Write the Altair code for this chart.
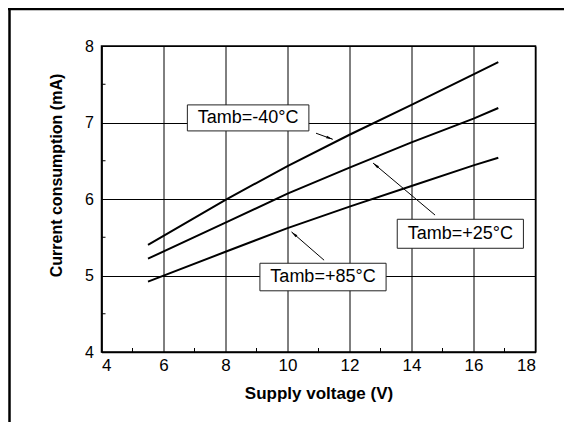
import math
import altair as alt
import pandas as pd

# ---- data ----
voltage = [5.5, 8, 10, 12, 14, 16, 16.8]
i_m40 = [5.40, 5.99, 6.43, 6.84, 7.23, 7.63, 7.79]
i_p25 = [5.22, 5.69, 6.07, 6.41, 6.74, 7.05, 7.19]
i_p85 = [4.92, 5.31, 5.62, 5.90, 6.17, 6.44, 6.54]
series_names = ["Tamb=-40°C", "Tamb=+25°C", "Tamb=+85°C"]

# annotation boxes (data units)
box_x1 = [6.77, 13.54, 9.11]
box_x2 = [10.69, 17.61, 13.18]
box_y1 = [6.89, 5.356, 4.80]
box_y2 = [7.23, 5.735, 5.16]
# arrows (tail -> head, data units)
arrow_x1 = [10.92, 14.76, 11.18]
arrow_y1 = [6.86, 5.79, 5.20]
arrow_x2 = [11.46, 12.76, 10.13]
arrow_y2 = [6.78, 6.47, 5.57]

x_ticks = [4, 6, 8, 10, 12, 14, 16, 18]
y_ticks = [4, 5, 6, 7, 8]
x_minor = [5, 7, 9, 11, 13, 15, 17]
y_minor = [4.5, 5.5, 6.5, 7.5]

W, H = 434, 306
FONT = "Liberation Sans"

xs = alt.Scale(domain=[4, 18], nice=False, zero=False)
ys = alt.Scale(domain=[4, 8], nice=False, zero=False)

rows = []
for name, vals in zip(series_names, [i_m40, i_p25, i_p85]):
    for v, c in zip(voltage, vals):
        rows.append({"series": name, "v": v, "i": c})
df_lines = pd.DataFrame(rows)

px_per_x = W / 14.0
px_per_y = H / 4.0
ann = pd.DataFrame({
    "text": series_names,
    "bx1": box_x1, "bx2": box_x2, "by1": box_y1, "by2": box_y2,
    "tx": [(a + b) / 2 for a, b in zip(box_x1, box_x2)],
    "ty": [(a + b) / 2 for a, b in zip(box_y1, box_y2)],
    "ax1": arrow_x1, "ay1": arrow_y1, "ax2": arrow_x2, "ay2": arrow_y2,
    "ang": [
        math.degrees(math.atan2((x2 - x1) * px_per_x, (y2 - y1) * px_per_y)) % 360
        for x1, y1, x2, y2 in zip(arrow_x1, arrow_y1, arrow_x2, arrow_y2)
    ],
})

x_axis = alt.Axis(
    values=x_ticks, format="d", grid=True, ticks=False, tickSize=0,
    labelPadding=5, labelFont=FONT, labelFontSize=17, labelColor="black",
    title="Supply voltage (V)", titleY=46, titleBaseline="alphabetic",
    titleFont=FONT, titleFontSize=17, titleFontWeight="bold", titleColor="black",
)
y_axis = alt.Axis(
    values=y_ticks, format="d", grid=True, ticks=False, tickSize=0,
    labelPadding=8, labelFont=FONT, labelFontSize=16, labelColor="black",
    title="Current consumption (mA)", titleX=-45, titleY=129,
    titleAngle=270, titleAlign="center", titleBaseline="middle",
    titleFont=FONT, titleFontSize=16, titleFontWeight="bold", titleColor="black",
)


def X(field):
    return alt.X(field, type="quantitative", scale=xs, axis=x_axis)


def Y(field):
    return alt.Y(field, type="quantitative", scale=ys, axis=y_axis)


lines = alt.Chart(df_lines).mark_line(color="black", strokeWidth=2).encode(
    x=X("v"), y=Y("i"), detail="series:N",
)

base_ann = alt.Chart(ann)
boxes = base_ann.mark_rect(fill="white", stroke="#222", strokeWidth=1).encode(
    x=X("bx1"), x2="bx2", y=Y("by1"), y2="by2",
)
texts = base_ann.mark_text(font=FONT, fontSize=18, color="black",
                           align="center", baseline="middle").encode(
    x=X("tx"), y=Y("ty"), text="text:N",
)
arrows = base_ann.mark_rule(color="black", strokeWidth=1).encode(
    x=X("ax1"), x2="ax2", y=Y("ay1"), y2="ay2",
)
heads = base_ann.mark_point(
    shape="M0,0L-0.45,2.2L0.45,2.2Z", filled=True, color="black",
    opacity=1, size=36, strokeWidth=0,
).encode(
    x=X("ax2"), y=Y("ay2"), angle=alt.Angle("ang:Q", scale=None),
)

xminor = alt.Chart(pd.DataFrame({"m": x_minor})).mark_rule(
    color="black", strokeWidth=1).encode(
    x=X("m"), y=alt.value(H), y2=alt.value(H - 4),
)
yminor = alt.Chart(pd.DataFrame({"m": y_minor})).mark_rule(
    color="black", strokeWidth=1).encode(
    y=Y("m"), x=alt.value(0), x2=alt.value(4),
)

one = pd.DataFrame({"k": [0]})
frame_left = alt.Chart(one).mark_rule(color="black", strokeWidth=2.5).encode(
    x=alt.value(-92), y=alt.value(-38), y2=alt.value(H + 80),
)
frame_top = alt.Chart(one).mark_rule(color="black", strokeWidth=2.5).encode(
    x=alt.value(-94), x2=alt.value(W + 40), y=alt.value(-37),
)

chart = alt.layer(
    lines, boxes, texts, arrows, heads, xminor, yminor, frame_left, frame_top
).properties(
    width=W, height=H,
    autosize=alt.AutoSizeParams(type="none"),
    padding={"left": 93.5, "top": 38, "right": 28, "bottom": 70},
    background="white",
).configure_view(
    stroke="black", strokeWidth=1.5,
).configure_axis(
    domainColor="black", domainWidth=1.5,
    gridColor="black", gridWidth=1, gridOpacity=1,
)

chart.save("out.html", embed_options={"renderer": "svg", "actions": False})
